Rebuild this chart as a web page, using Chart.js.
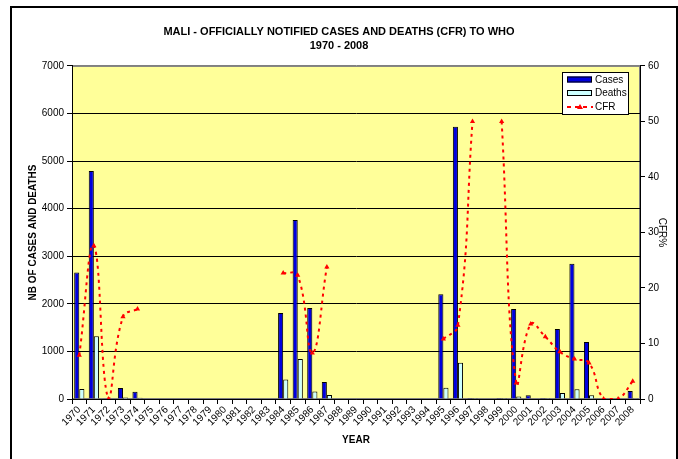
<!DOCTYPE html>
<html>
<head>
<meta charset="utf-8">
<script src="https://cdn.jsdelivr.net/npm/chart.js@4.4.0/dist/chart.umd.min.js"></script>
<style>
  html, body { margin: 0; padding: 0; background: #ffffff; }
  #wrap { width: 678px; height: 459px; position: relative; }
</style>
</head>
<body>
<div id="wrap"><canvas id="chart" width="678" height="459"></canvas></div>
<script>
const years = ["1970","1971","1972","1973","1974","1975","1976","1977","1978","1979",
  "1980","1981","1982","1983","1984","1985","1986","1987","1988","1989",
  "1990","1991","1992","1993","1994","1995","1996","1997","1998","1999",
  "2000","2001","2002","2003","2004","2005","2006","2007","2008"];

const cases = [2660, 4790, 5, 230, 150, null, null, null, null, null,
  null, null, null, null, 1810, 3760, 1910, 355, null, null,
  null, null, null, null, null, 2200, 5720, 2, null, 2,
  1890, 80, 20, 1470, 2840, 1200, 10, 10, 170];

const deaths = [210, 1320, 0, 34, 24, null, null, null, null, null,
  null, null, null, null, 410, 840, 160, 85, null, null,
  null, null, null, null, null, 235, 760, 1, null, 1,
  55, 11, 2, 125, 205, 78, 0, 0, 5];

const cfr = [7.9, 27.6, 0, 14.8, 16.2, null, null, null, null, null,
  null, null, null, null, 22.7, 22.3, 8.3, 23.8, null, null,
  null, null, null, null, null, 10.8, 13.3, 50, null, 50,
  2.9, 13.5, 11.2, 8.5, 7.2, 6.5, 0, 0, 3.2];

const leftTicks = [0, 1000, 2000, 3000, 4000, 5000, 6000, 7000];
const rightTicks = [0, 10, 20, 30, 40, 50, 60];

const FONT = "'Liberation Sans', Arial, sans-serif";

// yellow plot area + frame
const plotBg = {
  id: "plotBg",
  beforeDraw(chart) {
    const c = chart.ctx, a = chart.chartArea;
    c.save();
    c.fillStyle = "#FFFF99";
    c.fillRect(a.left, a.top, a.right - a.left, a.bottom - a.top);
    c.strokeStyle = "#808080";
    c.lineWidth = 1;
    c.strokeRect(a.left + 0.5, a.top + 0.5, a.right - a.left - 1, a.bottom - a.top - 1);
    c.restore();
  },
  afterDraw(chart) {
    const c = chart.ctx;
    c.save();
    c.strokeStyle = "#000000";
    c.lineWidth = 2;
    c.strokeRect(11, 7, 666, 470);
    c.restore();
  }
};

// legend box drawn inside the plot, top right
const boxLegend = {
  id: "boxLegend",
  afterDraw(chart) {
    const c = chart.ctx;
    const x = 562, y = 72, w = 66, h = 42;
    const ds = chart.data.datasets;
    c.save();
    c.fillStyle = "#ffffff";
    c.fillRect(x, y, w, h);
    c.strokeStyle = "#000000";
    c.lineWidth = 1;
    c.strokeRect(x + 0.5, y + 0.5, w, h);
    c.font = "10px " + FONT;
    c.textBaseline = "middle";
    const rows = [y + 7.5, y + 21, y + 35];
    for (let i = 0; i < 2; i++) {
      c.fillStyle = ds[i].backgroundColor;
      c.fillRect(x + 5, rows[i] - 3, 25, 6);
      c.strokeStyle = "#000000";
      c.strokeRect(x + 5.5, rows[i] - 2.5, 24, 5);
    }
    c.strokeStyle = ds[2].borderColor;
    c.lineWidth = 2;
    c.setLineDash([4, 4]);
    c.beginPath();
    c.moveTo(x + 5, rows[2]);
    c.lineTo(x + 31, rows[2]);
    c.stroke();
    c.setLineDash([]);
    c.fillStyle = ds[2].borderColor;
    c.beginPath();
    c.moveTo(x + 18, rows[2] - 3);
    c.lineTo(x + 21, rows[2] + 2);
    c.lineTo(x + 15, rows[2] + 2);
    c.closePath();
    c.fill();
    c.fillStyle = "#000000";
    for (let i = 0; i < 3; i++) c.fillText(ds[i].label, x + 33, rows[i] + 0.5);
    c.restore();
  }
};

new Chart(document.getElementById("chart"), {
  data: {
    labels: years,
    datasets: [
      {
        type: "bar",
        label: "Cases",
        data: cases,
        backgroundColor: "#0000DD",
        borderColor: "#000000",
        borderWidth: 1,
        yAxisID: "y",
        categoryPercentage: 0.7,
        barPercentage: 1.0,
        order: 2
      },
      {
        type: "bar",
        label: "Deaths",
        data: deaths,
        backgroundColor: "#CCFFFF",
        borderColor: "#000000",
        borderWidth: 1,
        yAxisID: "y",
        categoryPercentage: 0.7,
        barPercentage: 1.0,
        order: 2
      },
      {
        type: "line",
        label: "CFR",
        data: cfr,
        borderColor: "#FF0000",
        backgroundColor: "#FF0000",
        borderWidth: 2,
        borderDash: [3, 4],
        tension: 0.45,
        spanGaps: false,
        pointStyle: "triangle",
        pointRadius: 3,
        pointBorderWidth: 0,
        yAxisID: "y1",
        order: 1
      }
    ]
  },
  options: {
    responsive: false,
    animation: false,
    layout: { padding: 0 },
    plugins: {
      legend: { display: false },
      tooltip: { enabled: false },
      title: {
        display: true,
        text: ["MALI - OFFICIALLY NOTIFIED CASES AND DEATHS (CFR) TO WHO", "1970 - 2008"],
        color: "#000000",
        font: { family: FONT, size: 11, weight: "bold", lineHeight: 1.27 },
        padding: { top: 25, bottom: 13 }
      }
    },
    scales: {
      x: {
        offset: true,
        grid: { display: true, drawOnChartArea: false, offset: true, tickLength: 5, color: "#000000" },
        border: { color: "#000000" },
        ticks: {
          autoSkip: false,
          maxRotation: 45,
          minRotation: 45,
          padding: 0,
          color: "#000000",
          font: { family: FONT, size: 10 }
        },
        title: {
          display: true,
          text: "YEAR",
          color: "#000000",
          font: { family: FONT, size: 10, weight: "bold" },
          padding: { top: 0, bottom: 13 }
        },
        afterFit(scale) { scale.height = 60; }
      },
      y: {
        position: "left",
        min: 0,
        max: 7000,
        afterBuildTicks(scale) { scale.ticks = leftTicks.map(v => ({ value: v })); },
        grid: {
          color: ctx => ctx.tick && ctx.tick.value === 7000 ? "#808080" : "#000000",
          tickColor: "#000000",
          tickLength: 5,
          lineWidth: 1
        },
        border: { color: "#000000" },
        ticks: {
          color: "#000000",
          padding: 3,
          font: { family: FONT, size: 10 },
          callback: v => String(v)
        },
        title: {
          display: true,
          text: "NB OF CASES AND DEATHS",
          color: "#000000",
          font: { family: FONT, size: 10, weight: "bold" },
          padding: { top: 27, bottom: 0 }
        },
        afterFit(scale) { scale.width = 72; }
      },
      y1: {
        position: "right",
        min: 0,
        max: 60,
        afterBuildTicks(scale) { scale.ticks = rightTicks.map(v => ({ value: v })); },
        grid: { drawOnChartArea: false, tickLength: 5, color: "#000000" },
        border: { color: "#000000" },
        ticks: {
          color: "#000000",
          padding: 3,
          font: { family: FONT, size: 10 },
          callback: v => String(v)
        },
        title: {
          display: true,
          text: "CFR%",
          color: "#000000",
          font: { family: FONT, size: 10 },
          padding: { top: 10, bottom: 0 }
        },
        afterFit(scale) { scale.width = 38; }
      }
    }
  },
  plugins: [plotBg, boxLegend]
});
</script>
</body>
</html>
